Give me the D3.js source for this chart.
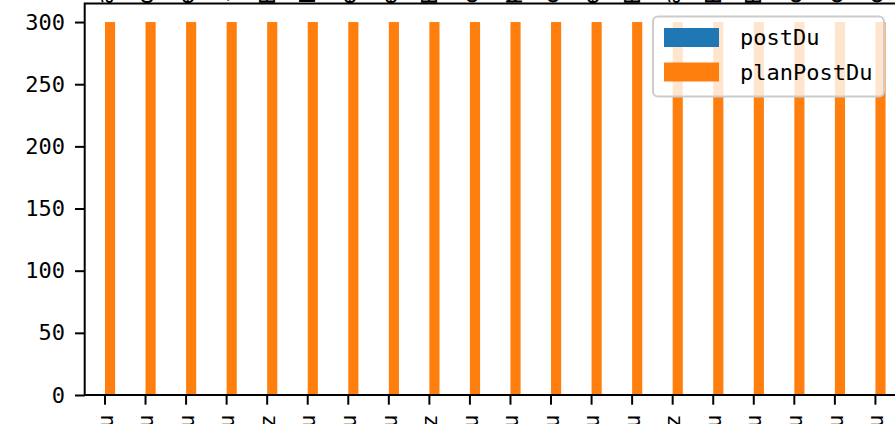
<!DOCTYPE html>
<meta charset="utf-8">
<style>
body { margin: 0; background: #fff; }
text { font-family: "DejaVu Sans Mono", monospace; }
</style>
<svg width="895" height="424"></svg>
<script src="https://d3js.org/d3.v7.min.js"></script>
<script>
"use strict";

// data
var categories = ["chengdu", "chongqu", "guangzhu", "hangzu", "shenyaz", "nanjingu", "wuhanu", "xianu", "tianjiz",
  "suzhu", "qingdu", "dalianu", "xiamenu", "ningbu", "jinaz", "hefeiu", "fuzhu", "kunmingu", "changshu", "zhengzu"];
var topLabels = ["a", "o", "e", "-", "B", "F", "e", "e", "B", "c", "p", "c", "e", "B", "a", "E", "B", "c", "c", "c"];
var postDu = [0, 0, 0, 0, 0, 0, 0, 0, 0, 0, 0, 0, 0, 0, 0, 0, 0, 0, 0, 0];
var planPostDu = [300, 300, 300, 300, 300, 300, 300, 300, 300, 300, 300, 300, 300, 300, 300, 300, 300, 300, 300, 300];
var yTicks = [0, 50, 100, 150, 200, 250, 300];
var seriesNames = ["postDu", "planPostDu"];
var colors = ["#1f77b4", "#ff7f0e"];

var svg = d3.select("svg");
var plotLeft = 84.7, plotRight = 895.7, plotTop = 3.4, plotBottom = 395;

var x = d3.scaleBand().domain(categories).range([plotLeft, plotRight]).padding(0);
var y = d3.scaleLinear().domain([0, 315]).range([plotBottom, plotTop]);
var bw = x.bandwidth() * 0.25;

// labels of the plot above, cut off by the top of the picture
svg.append("g").selectAll("text")
  .data(topLabels)
  .enter().append("text")
    .attr("transform", function(d, i) { return "translate(" + (x(categories[i]) + x.bandwidth() / 2) + ",4.5) rotate(-90)"; })
    .attr("dy", "0.35em")
    .attr("text-anchor", "start")
    .style("font-size", "22px")
    .text(function(d) { return d; });

// bars
svg.append("g").selectAll("rect")
  .data(postDu)
  .enter().append("rect")
    .attr("x", function(d, i) { return x(categories[i]) + x.bandwidth() / 2 - bw; })
    .attr("y", function(d) { return y(d); })
    .attr("width", bw)
    .attr("height", function(d) { return plotBottom - y(d); })
    .attr("fill", colors[0]);

svg.append("g").selectAll("rect")
  .data(planPostDu)
  .enter().append("rect")
    .attr("x", function(d, i) { return x(categories[i]) + x.bandwidth() / 2; })
    .attr("y", function(d) { return y(d); })
    .attr("width", bw)
    .attr("height", function(d) { return plotBottom - y(d); })
    .attr("fill", colors[1]);

// axes
var yAxis = svg.append("g")
  .attr("transform", "translate(" + plotLeft + ",0)")
  .call(d3.axisLeft(y).tickValues(yTicks).tickSize(9.7).tickPadding(10));

var xAxis = svg.append("g")
  .attr("transform", "translate(0," + plotBottom + ")")
  .call(d3.axisBottom(x).tickSize(9.7).tickPadding(10));

xAxis.selectAll("text")
  .attr("transform", "rotate(-90)")
  .attr("x", -19.5)
  .attr("y", 0)
  .attr("dy", "0.35em")
  .attr("text-anchor", "end");

[yAxis, xAxis].forEach(function(a) {
  a.select(".domain").remove();
  a.selectAll("line").attr("stroke", "#000").attr("stroke-width", 2);
  a.selectAll("text").style("font-size", "22px").style("font-family", "DejaVu Sans Mono").attr("fill", "#000");
});

// frame (left, top, bottom spines)
svg.append("path")
  .attr("d", "M" + plotRight + "," + plotTop + "H" + plotLeft + "V" + plotBottom + "H" + plotRight)
  .attr("fill", "none")
  .attr("stroke", "#000")
  .attr("stroke-width", 2);

// legend
var lg = svg.append("g");
lg.append("rect")
  .attr("x", 653).attr("y", 16.5)
  .attr("width", 231).attr("height", 80)
  .attr("rx", 5)
  .attr("fill", "#fff").attr("fill-opacity", 0.8)
  .attr("stroke", "#cccccc").attr("stroke-width", 2);

seriesNames.forEach(function(name, i) {
  var cy = 37.5 + i * 34.5;
  lg.append("rect")
    .attr("x", 664).attr("y", cy - 9.5)
    .attr("width", 55).attr("height", 19)
    .attr("fill", colors[i]);
  lg.append("text")
    .attr("x", 740).attr("y", cy)
    .attr("dy", "0.35em")
    .style("font-size", "22px")
    .text(name);
});
</script>
